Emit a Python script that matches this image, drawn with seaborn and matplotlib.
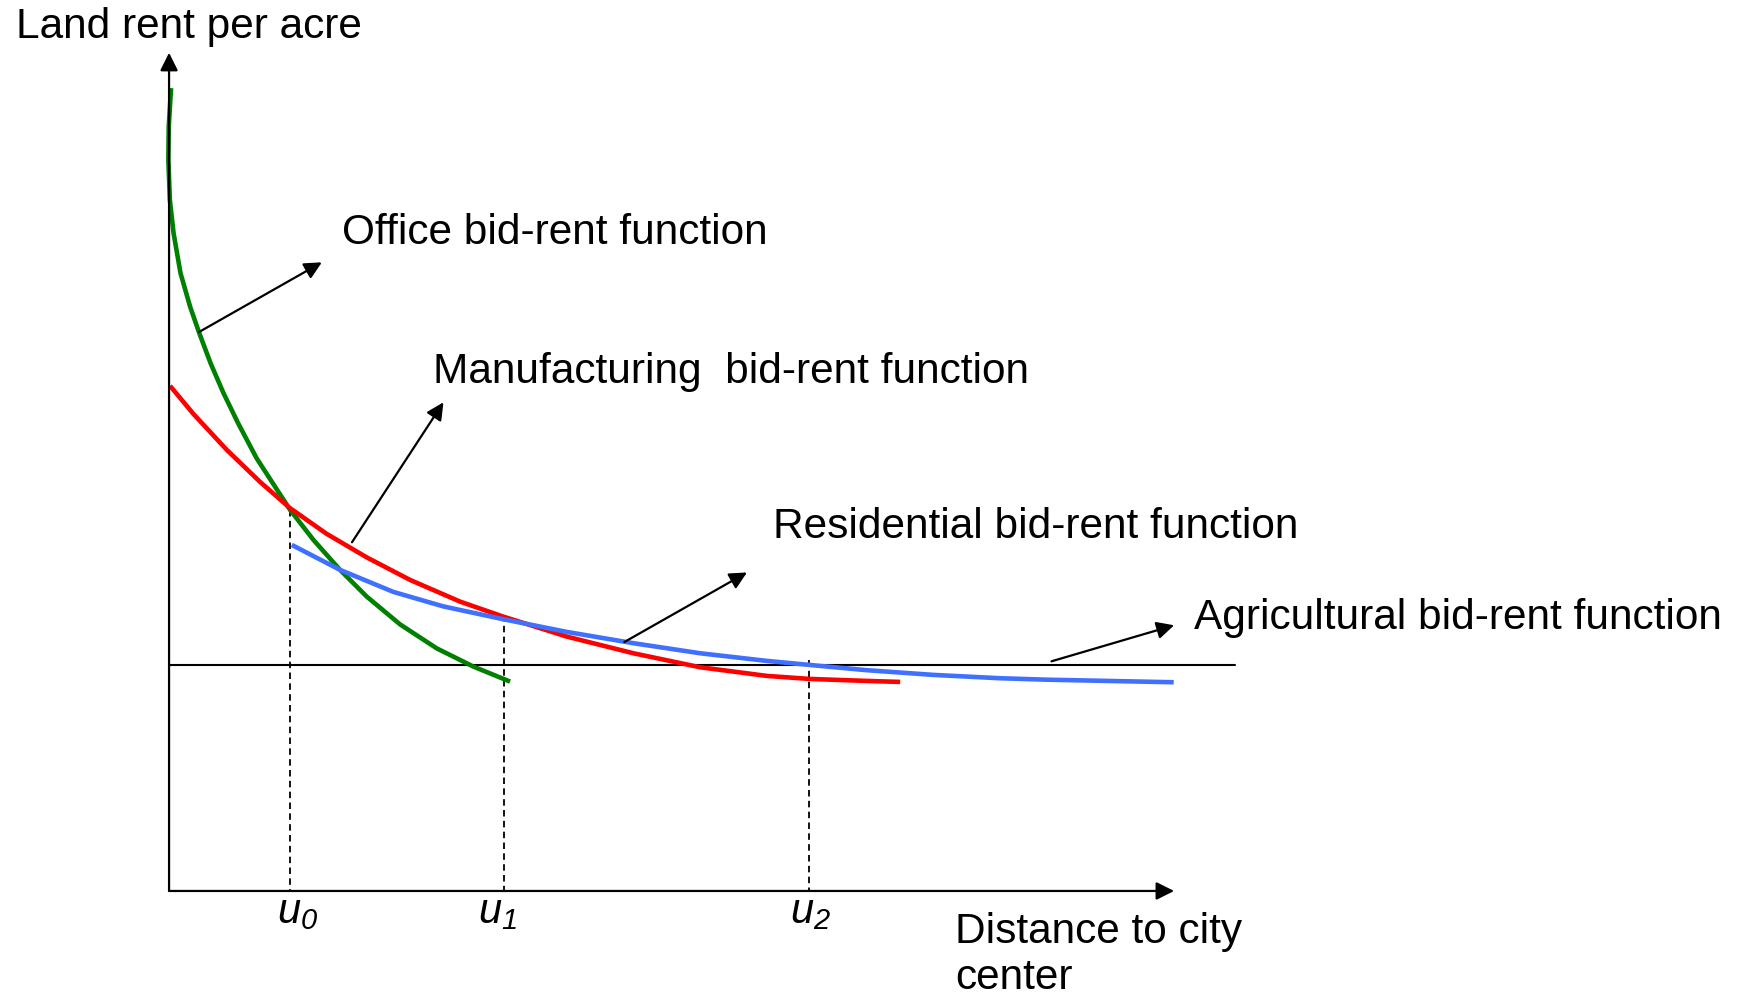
import matplotlib
matplotlib.use('Agg')
import matplotlib.pyplot as plt
import seaborn as sns
import pandas as pd

# bid-rent curves (distance, rent)
office_x = [0.020, -0.003, -0.007, 0.008, 0.045, 0.114, 0.209, 0.301, 0.413, 0.542, 0.687, 0.871,
            1.204, 1.436, 1.701, 1.967, 2.299, 2.664, 3.028, 3.393]
office_y = [9.579, 9.121, 8.723, 8.246, 7.848, 7.371, 6.973, 6.655, 6.297, 5.939, 5.581, 5.163,
            4.547, 4.189, 3.831, 3.512, 3.180, 2.894, 2.677, 2.498]

manuf_x = [0.010, 0.242, 0.574, 0.905, 1.204, 1.569, 1.967, 2.398, 2.896, 3.326, 3.957, 4.620,
           5.284, 5.947, 6.371, 6.942, 7.274]
manuf_y = [6.026, 5.692, 5.263, 4.881, 4.567, 4.260, 3.980, 3.711, 3.452, 3.273, 3.035, 2.836,
           2.669, 2.566, 2.530, 2.506, 2.494]

resid_x = [1.221, 1.701, 2.232, 2.729, 3.326, 3.957, 4.620, 5.284, 5.947, 6.371, 6.942, 7.605,
           8.269, 8.726, 9.996]
resid_y = [4.129, 3.831, 3.568, 3.395, 3.242, 3.091, 2.956, 2.836, 2.745, 2.697, 2.634, 2.578,
           2.538, 2.521, 2.490]

agri_x = [0.0, 10.61]
agri_y = [2.697, 2.697]

# boundaries u0, u1, u2 and the rent where the dashed line starts
u_names = [r'$u_0$', r'$u_1$', r'$u_2$']
u_pos = [1.204, 3.33, 6.37]
u_top = [4.55, 3.29, 2.76]
u_label_x = [1.075, 3.075, 6.18]

# labels with their arrows: (text, text pos, arrow tail, arrow tip)
labels = ['Office bid-rent function', 'Manufacturing  bid-rent function',
          'Residential bid-rent function', 'Agricultural bid-rent function']
label_xy = [(1.72, 7.72), (2.63, 6.06), (6.01, 4.21), (10.2, 3.13)]
arrow_tail = [(0.30, 6.67), (1.82, 4.16), (4.53, 2.97), (8.78, 2.74)]
arrow_tip = [(1.52, 7.50), (2.73, 5.83), (5.75, 3.80), (10.0, 3.17)]

sns.set_style('white')
plt.rcParams['font.family'] = ['Liberation Sans', 'DejaVu Sans']
plt.rcParams['text.color'] = 'black'
plt.rcParams['mathtext.fontset'] = 'custom'
plt.rcParams['mathtext.it'] = 'Liberation Sans:italic'
plt.rcParams['mathtext.rm'] = 'Liberation Sans:italic'

fig = plt.figure(figsize=(17.45, 9.98), dpi=100)
ax = fig.add_axes([0, 0, 1, 1])
ax.set_xlim(-1.682, 15.68)
ax.set_ylim(-1.277, 10.63)
ax.axis('off')

curves = [(office_x, office_y, '#008000'), (manuf_x, manuf_y, '#ff0000'), (resid_x, resid_y, '#4070ff')]
for cx, cy, col in curves:
    df = pd.DataFrame({'x': cx, 'y': cy})
    sns.lineplot(data=df, x='x', y='y', sort=False, estimator=None, color=col, lw=3.3,
                 solid_joinstyle='round', solid_capstyle='butt', ax=ax, zorder=3)

sns.lineplot(x=agri_x, y=agri_y, sort=False, estimator=None, color='black', lw=1.5, ax=ax, zorder=2)

# axes with arrows
ax_arrow = dict(arrowstyle='-|>', lw=1.6, color='black', mutation_scale=27, shrinkA=0, shrinkB=0)
ax.annotate('', xy=(0, 10), xytext=(0, 0), arrowprops=ax_arrow)
ax.annotate('', xy=(10, 0), xytext=(0, 0), arrowprops=ax_arrow)

for name, x, top, lx in zip(u_names, u_pos, u_top, u_label_x):
    ax.plot([x, x], [top, 0], color='black', lw=1.3, ls=(0, (3.6, 2.4)), zorder=1)
    ax.text(lx, -0.382, name, fontsize=30, ha='left', va='baseline')

lab_arrow = dict(arrowstyle='-|>', lw=1.6, color='black', mutation_scale=26, shrinkA=0, shrinkB=0)
for txt, (tx, ty), tail, tip in zip(labels, label_xy, arrow_tail, arrow_tip):
    ax.annotate('', xy=tip, xytext=tail, arrowprops=lab_arrow, zorder=4)
    ax.text(tx, ty, txt, fontsize=30.5, ha='left', va='baseline')

ax.text(-1.522, 10.175, 'Land rent per acre', fontsize=30.5, ha='left', va='baseline')
ax.text(7.82, -1.173, 'Distance to city\ncenter', fontsize=30.5, ha='left', va='baseline', linespacing=1.2)

fig.savefig('out.png', dpi=100)
